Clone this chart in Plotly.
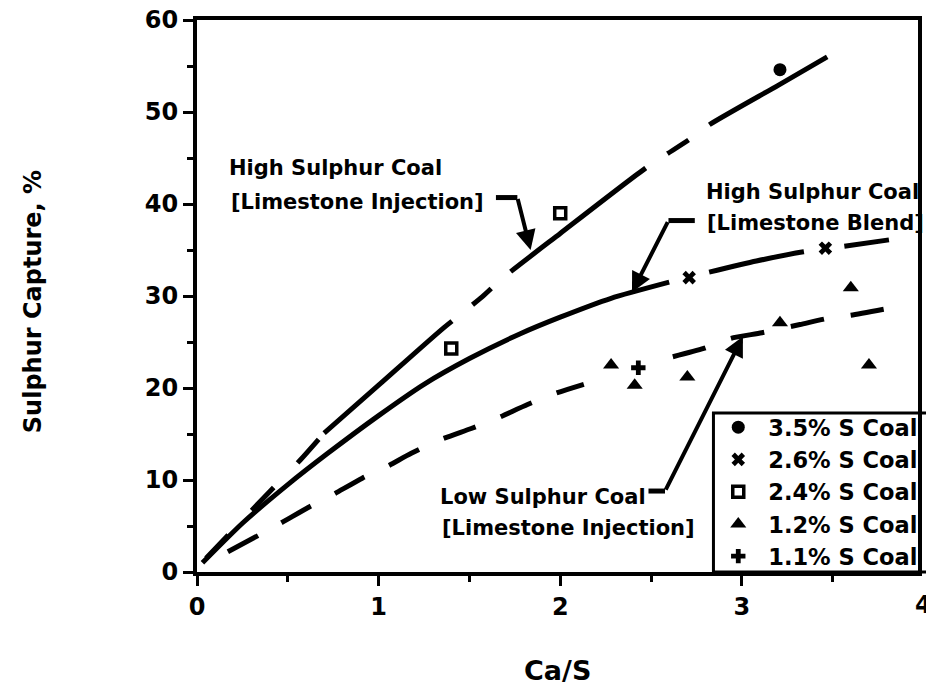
import plotly.graph_objects as go

# ---------------- data ----------------
# measured points
coal35_x = [3.21]
coal35_y = [54.6]
coal26_x = [2.71, 3.46]
coal26_y = [32.0, 35.2]
coal24_x = [1.40, 2.00]
coal24_y = [24.3, 39.0]
coal12_x = [2.28, 2.41, 2.70, 3.21, 3.60, 3.70]
coal12_y = [22.5, 20.3, 21.2, 27.1, 30.9, 22.5]
coal11_x = [2.43]
coal11_y = [22.2]

# fitted curves
hi_inj_x = [0.05, 0.34, 0.57, 0.70, 1.00, 1.35, 1.57, 1.68, 2.00, 2.47, 2.71, 2.82, 3.20, 3.47]
hi_inj_y = [1.5, 7.5, 12.2, 15.1, 20.3, 26.4, 29.9, 31.9, 36.8, 43.9, 47.0, 48.6, 52.9, 56.0]

hi_blend_x = [0.03, 0.25, 0.50, 0.72, 1.00, 1.25, 1.50, 1.78, 2.00, 2.28, 2.60,
              2.82, 3.08, 3.34, 3.56, 3.81]
hi_blend_y = [1.0, 5.3, 9.5, 12.9, 17.0, 20.4, 23.2, 25.9, 27.7, 29.75, 31.5,
              32.6, 33.8, 34.8, 35.4, 36.1]

low_inj_x = [0.17, 0.34, 0.46, 0.62, 0.73, 0.91, 1.04, 1.18, 1.33, 1.51, 1.64, 1.82, 1.97, 2.13,
             2.62, 2.79, 2.94, 3.11, 3.32, 3.48, 3.60, 3.82]
low_inj_y = [2.2, 4.0, 5.3, 7.1, 8.2, 10.2, 11.4, 12.9, 14.3, 15.6, 16.6, 18.2, 19.4, 20.4,
             23.4, 24.3, 25.4, 26.0, 26.9, 27.6, 27.9, 28.7]

legend_names = ["3.5% S Coal", "2.6% S Coal", "2.4% S Coal", "1.2% S Coal", "1.1% S Coal"]

x_ticks = [0, 1, 2, 3, 4]
y_ticks = [0, 10, 20, 30, 40, 50, 60]

x_title = "Ca/S"
y_title = "Sulphur Capture, %"

# label texts
lbl_hi_inj = ["High Sulphur Coal", "[Limestone Injection]"]
lbl_hi_blend = ["High Sulphur Coal", "[Limestone Blend]"]
lbl_low_inj = ["Low Sulphur Coal", "[Limestone Injection]"]

# ---------------- figure ----------------
FONT = "DejaVu Sans"
fig = go.Figure()

def line(x, y, dash, name):
    fig.add_trace(go.Scatter(x=x, y=y, mode="lines",
                             line=dict(color="black", width=5, dash=dash, shape="spline", smoothing=0.6),
                             showlegend=False, hoverinfo="skip", name=name))

# high sulphur, limestone injection (short dashes near origin, then long-short pattern)
line(hi_inj_x[:4], hi_inj_y[:4], "32px,34px", "hi_inj_a")
line(hi_inj_x[3:], hi_inj_y[3:], "170px,26px,25px,26px", "hi_inj_b")
# high sulphur, limestone blend (solid, then broken)
line(hi_blend_x[:11], hi_blend_y[:11], "solid", "hi_blend_a")
line(hi_blend_x[11:], hi_blend_y[11:], "97px,41px", "hi_blend_b")
# low sulphur, limestone injection
line(low_inj_x[:14], low_inj_y[:14], "34px,27px", "low_a")
line(low_inj_x[14:], low_inj_y[14:], "34px,27px", "low_b")

marker_specs = [
    (coal35_x, coal35_y, dict(symbol="circle", size=13, color="black")),
    (coal26_x, coal26_y, dict(symbol="x", size=12, color="black")),
    (coal24_x, coal24_y, dict(symbol="square-open", size=11, color="black", line=dict(width=3.5, color="black"))),
    (coal12_x, coal12_y, dict(symbol="triangle-up", size=14, color="black")),
    (coal11_x, coal11_y, dict(symbol="cross", size=12, color="black")),
]
for (mx, my, mk), nm in zip(marker_specs, legend_names):
    fig.add_trace(go.Scatter(x=mx, y=my, mode="markers", marker=mk, name=nm))

annotations = []
def label(x, y, text):
    annotations.append(dict(x=x, y=y, xref="x", yref="y", text=text, showarrow=False,
                            xanchor="left", yanchor="middle",
                            font=dict(family=FONT, size=21, color="black", weight="bold")))

label(0.164, 43.9, lbl_hi_inj[0])
label(0.175, 40.2, lbl_hi_inj[1])
label(2.789, 41.3, lbl_hi_blend[0])
label(2.795, 37.9, lbl_hi_blend[1])
label(1.326, 8.15, lbl_low_inj[0])
label(1.337, 4.8, lbl_low_inj[1])

# leader lines: (stub start, bend, tip)
leaders = [
    ((1.646, 40.7), (1.764, 40.7), (1.837, 35.0)),
    ((2.741, 38.2), (2.596, 38.2), (2.395, 30.4)),
    ((2.486, 8.8), (2.577, 8.8), (3.006, 25.6)),
]
shapes = []
for s, b, t in leaders:
    shapes.append(dict(type="line", xref="x", yref="y", x0=s[0], y0=s[1], x1=b[0], y1=b[1],
                       line=dict(color="black", width=5)))
    annotations.append(dict(x=t[0], y=t[1], ax=b[0], ay=b[1], xref="x", yref="y", axref="x", ayref="y",
                            text="", showarrow=True, arrowhead=2, arrowsize=1.0, arrowwidth=4,
                            arrowcolor="black", standoff=0))

# legend frame (runs to the right edge and down to the axis)
shapes.append(dict(type="rect", xref="paper", yref="paper", x0=0.7163, x1=1.02, y0=0.0, y1=0.288,
                   line=dict(color="black", width=3), fillcolor="rgba(0,0,0,0)"))

# last x tick label ("4") sits beyond the cropped right edge
annotations.append(dict(x=1.0083, y=-0.06, xref="paper", yref="paper", text=str(x_ticks[-1]),
                        showarrow=False, xanchor="center", yanchor="middle",
                        font=dict(family=FONT, size=24, color="black", weight="bold")))
# axis titles
annotations.append(dict(x=0.5, y=-0.178, xref="paper", yref="paper", text=x_title, showarrow=False,
                        xanchor="center", yanchor="middle",
                        font=dict(family=FONT, size=27, color="black", weight="bold")))
annotations.append(dict(x=-0.2273, y=0.489, xref="paper", yref="paper", text=y_title, showarrow=False,
                        textangle=-90, xanchor="center", yanchor="middle",
                        font=dict(family=FONT, size=24, color="black", weight="bold")))

axis_common = dict(showline=True, linewidth=4, linecolor="black", mirror=True, showgrid=False,
                   zeroline=False, ticks="outside", ticklen=10, tickwidth=3, tickcolor="black",
                   tickfont=dict(family=FONT, size=24, color="black", weight="bold"))

fig.update_layout(
    width=926, height=685,
    margin=dict(l=197, r=3, t=20, b=113),
    paper_bgcolor="white", plot_bgcolor="white",
    font=dict(family=FONT, color="black"),
    xaxis=dict(range=[0, 3.97], tickvals=x_ticks, **axis_common,
               minor=dict(dtick=0.5, ticks="outside", ticklen=6, tickwidth=3, tickcolor="black")),
    yaxis=dict(range=[0, 60], tickvals=y_ticks, **axis_common,
               minor=dict(dtick=5, ticks="outside", ticklen=6, tickwidth=3, tickcolor="black")),
    legend=dict(x=0.7091, y=0.3007, xanchor="left", yanchor="top", bgcolor="rgba(0,0,0,0)",
                borderwidth=0, itemwidth=50,
                font=dict(family=FONT, size=22.5, color="black", weight="bold")),
    annotations=annotations,
    shapes=shapes,
    showlegend=True,
)

fig.write_html("out.html", config={"displayModeBar": False},
               post_script="document.body.style.margin='0px';")
